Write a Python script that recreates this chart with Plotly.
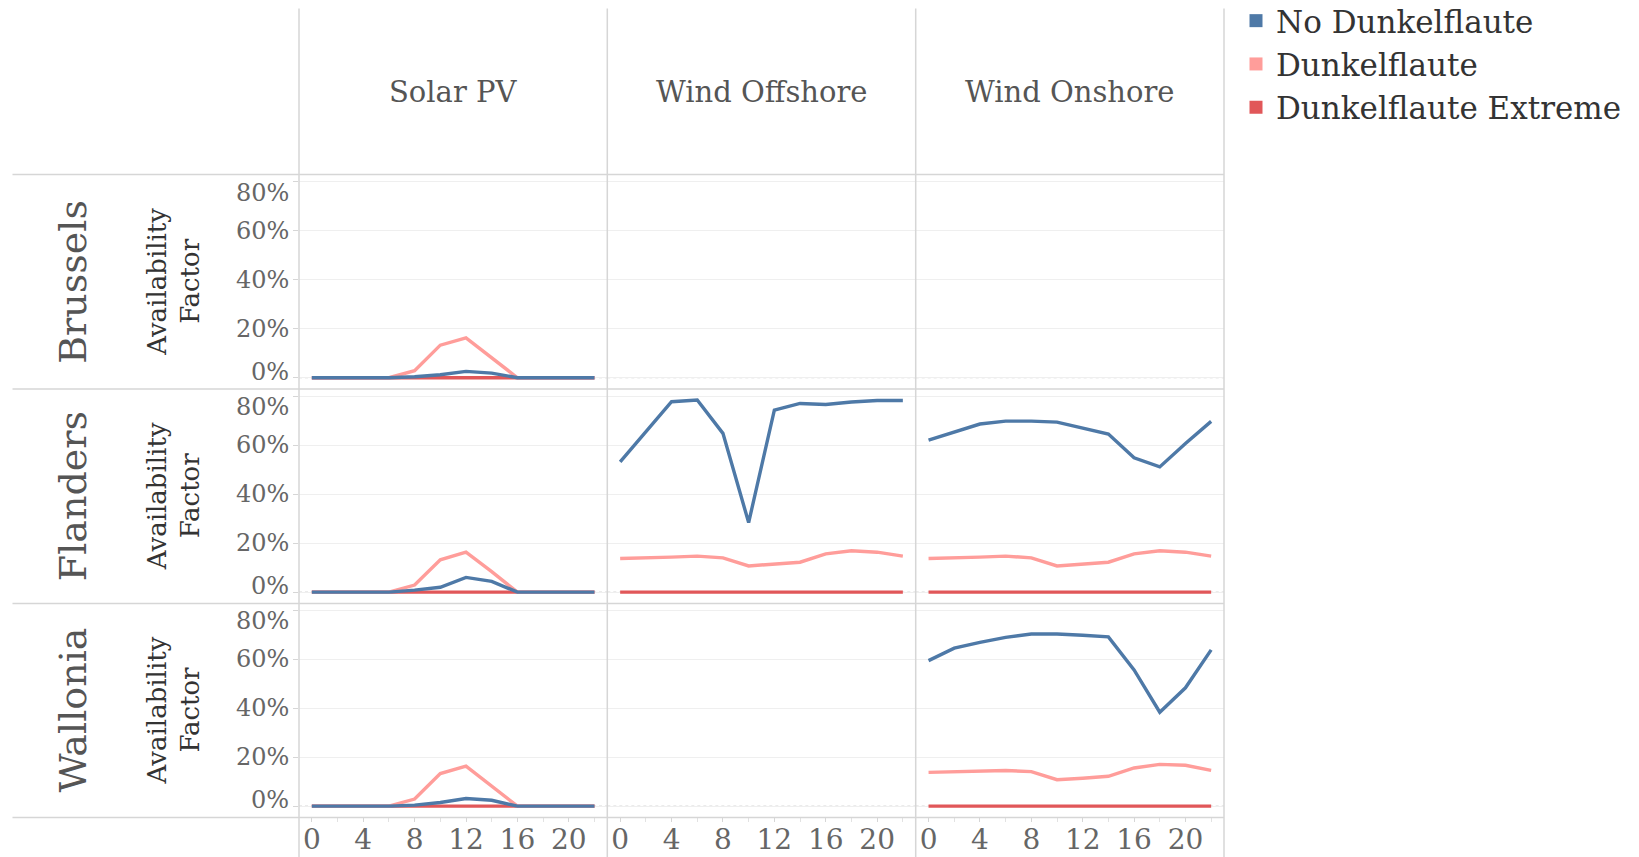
import plotly.graph_objects as go

# ---- data (availability factor in %, hourly profile every 2 h) ----
hours = [0, 2, 4, 6, 8, 10, 12, 14, 16, 18, 20, 22]

regions = ["Brussels", "Flanders", "Wallonia"]
technologies = ["Solar PV", "Wind Offshore", "Wind Onshore"]
scenarios = ["No Dunkelflaute", "Dunkelflaute", "Dunkelflaute Extreme"]

brussels_solar_no = [0, 0, 0, 0, 0.4, 1.2, 2.6, 1.9, 0, 0, 0, 0]
brussels_solar_df = [0, 0, 0, 0, 2.9, 13.3, 16.3, 8.3, 0, 0, 0, 0]
brussels_solar_ext = [0, 0, 0, 0, 0, 0, 0, 0, 0, 0, 0, 0]

flanders_solar_no = [0, 0, 0, 0, 0.8, 2.0, 6.0, 4.4, 0, 0, 0, 0]
flanders_solar_df = [0, 0, 0, 0, 2.9, 13.2, 16.3, 8.4, 0, 0, 0, 0]
flanders_solar_ext = [0, 0, 0, 0, 0, 0, 0, 0, 0, 0, 0, 0]

wallonia_solar_no = [0, 0, 0, 0, 0.4, 1.5, 3.1, 2.4, 0, 0, 0, 0]
wallonia_solar_df = [0, 0, 0, 0, 2.9, 13.3, 16.4, 8.3, 0, 0, 0, 0]
wallonia_solar_ext = [0, 0, 0, 0, 0, 0, 0, 0, 0, 0, 0, 0]

flanders_offshore_no = [53.2, 65.4, 77.7, 78.4, 64.8, 28.4, 74.3, 77.0, 76.6, 77.6, 78.2, 78.2]
flanders_offshore_df = [13.7, 13.9, 14.3, 14.7, 14.0, 10.7, 11.4, 12.2, 15.6, 16.9, 16.3, 14.7]
flanders_offshore_ext = [0, 0, 0, 0, 0, 0, 0, 0, 0, 0, 0, 0]

flanders_onshore_no = [62.0, 65.4, 68.6, 69.8, 69.8, 69.4, 67.1, 64.5, 54.8, 51.1, 60.7, 69.7]
flanders_onshore_df = [13.7, 13.9, 14.3, 14.7, 14.0, 10.7, 11.4, 12.2, 15.6, 16.9, 16.3, 14.7]
flanders_onshore_ext = [0, 0, 0, 0, 0, 0, 0, 0, 0, 0, 0, 0]

wallonia_onshore_no = [59.5, 64.6, 67.0, 69.0, 70.4, 70.4, 69.9, 69.2, 55.7, 38.4, 48.4, 63.9]
wallonia_onshore_df = [13.8, 14.1, 14.4, 14.6, 14.1, 10.8, 11.4, 12.2, 15.6, 17.1, 16.7, 14.6]
wallonia_onshore_ext = [0, 0, 0, 0, 0, 0, 0, 0, 0, 0, 0, 0]

y_ticks = [0, 20, 40, 60, 80]
y_tick_text = ["0%", "20%", "40%", "60%", "80%"]
x_ticks = [0, 4, 8, 12, 16, 20]

# (region, technology) -> series per scenario; missing cells stay empty
panels = {
    ("Brussels", "Solar PV"): [brussels_solar_no, brussels_solar_df, brussels_solar_ext],
    ("Flanders", "Solar PV"): [flanders_solar_no, flanders_solar_df, flanders_solar_ext],
    ("Wallonia", "Solar PV"): [wallonia_solar_no, wallonia_solar_df, wallonia_solar_ext],
    ("Flanders", "Wind Offshore"): [flanders_offshore_no, flanders_offshore_df, flanders_offshore_ext],
    ("Flanders", "Wind Onshore"): [flanders_onshore_no, flanders_onshore_df, flanders_onshore_ext],
    ("Wallonia", "Wind Onshore"): [wallonia_onshore_no, wallonia_onshore_df, wallonia_onshore_ext],
}

# ---- styling ----
W, H = 1639, 857
FONT = "DejaVu Serif"
colors = {"No Dunkelflaute": "#4e79a7", "Dunkelflaute": "#ff9d9a",
          "Dunkelflaute Extreme": "#e15759"}
BORDER = "#d6d6d6"

col_edges = [299, 607.3, 915.7, 1224]          # px, left → right
row_edges = [174.6, 389.0, 603.4, 817.4]       # px, top → bottom
left_edge = 12.5
top_edge = 8.4


def fx(px):
    return px / W


def fy(px):
    return 1 - px / H


def ax_names(p):
    return ("x" if p == 1 else f"x{p}", "y" if p == 1 else f"y{p}")


fig = go.Figure()
layout = {}

draw_order = [2, 1, 0]  # extreme first, no-dunkelflaute on top

for r, region in enumerate(regions):
    for c, tech in enumerate(technologies):
        p = r * 3 + c + 1
        xa, ya = ax_names(p)
        xkey = "xaxis" if p == 1 else f"xaxis{p}"
        ykey = "yaxis" if p == 1 else f"yaxis{p}"

        series = panels.get((region, tech))
        if series is not None:
            for k in draw_order:
                fig.add_trace(go.Scatter(
                    x=hours, y=series[k], mode="lines",
                    line=dict(color=colors[scenarios[k]], width=3.4),
                    name=scenarios[k], showlegend=False,
                    xaxis=xa, yaxis=ya))

        bottom = r == len(regions) - 1
        layout[xkey] = dict(
            domain=[fx(col_edges[c]), fx(col_edges[c + 1])],
            anchor=ya, range=[-1, 23], showgrid=False, zeroline=False,
            showline=False, tickvals=x_ticks if bottom else [],
            showticklabels=bottom, automargin=False,
            ticks="outside" if bottom else "", ticklen=4, tickcolor=BORDER,
            ticklabelstandoff=-7,
            minor=dict(dtick=2, tick0=0, ticks="outside" if bottom else "",
                       ticklen=4, tickcolor="#e2e2e2", showgrid=False),
            tickfont=dict(family=FONT, size=28, color="#666666"),
            fixedrange=True)
        layout[ykey] = dict(
            domain=[fy(row_edges[r + 1]), fy(row_edges[r])],
            anchor=xa, range=[-4.6, 82.9], tickvals=y_ticks,
            showticklabels=False, automargin=False,
            ticks="outside" if c == 0 else "", ticklen=5, tickcolor=BORDER,
            showgrid=True, gridcolor="#efefef", gridwidth=1,
            zeroline=False, showline=False, fixedrange=True)

# legend entries as square swatches
for s in scenarios:
    fig.add_trace(go.Scatter(
        x=[None], y=[None], mode="markers", name=s,
        marker=dict(symbol="square", size=13, color=colors[s]),
        showlegend=True))

shapes = []
# panel frame lines
for x in col_edges:
    shapes.append(dict(type="line", xref="paper", yref="paper",
                       x0=fx(x), x1=fx(x), y0=fy(top_edge), y1=0,
                       line=dict(color=BORDER, width=1.5)))
for y in row_edges:
    shapes.append(dict(type="line", xref="paper", yref="paper",
                       x0=fx(left_edge), x1=fx(col_edges[-1]), y0=fy(y), y1=fy(y),
                       line=dict(color=BORDER, width=1.5)))
# dotted zero line in every pane
for p in range(1, 10):
    xa, ya = ax_names(p)
    shapes.append(dict(type="line", xref=f"{xa} domain", yref=ya,
                       x0=0, x1=1, y0=0, y1=0, layer="below",
                       line=dict(color="#c8c8c8", width=1, dash="dot")))

annotations = []
# column headers
for c, tech in enumerate(technologies):
    annotations.append(dict(
        text=tech, xref="paper", yref="paper",
        x=fx((col_edges[c] + col_edges[c + 1]) / 2), y=fy(92),
        xanchor="center", yanchor="middle", showarrow=False,
        font=dict(family=FONT, size=29, color="#555555")))
# row headers, axis titles and value labels (end labels kept inside the pane)
label_shift = {0: 6, 80: -11}
for r, region in enumerate(regions):
    yc = fy((row_edges[r] + row_edges[r + 1]) / 2)
    annotations.append(dict(
        text=region, xref="paper", yref="paper", x=fx(73), y=yc,
        textangle=-90, xanchor="center", yanchor="middle", showarrow=False,
        font=dict(family=FONT, size=38, color="#555555")))
    annotations.append(dict(
        text="Availability", xref="paper", yref="paper", x=fx(157), y=yc,
        textangle=-90, xanchor="center", yanchor="middle", showarrow=False,
        font=dict(family=FONT, size=26, color="#333333")))
    annotations.append(dict(
        text="Factor", xref="paper", yref="paper", x=fx(190), y=yc,
        textangle=-90, xanchor="center", yanchor="middle", showarrow=False,
        font=dict(family=FONT, size=26, color="#333333")))
    _, ya = ax_names(r * 3 + 1)
    for v, t in zip(y_ticks, y_tick_text):
        annotations.append(dict(
            text=t, xref="paper", yref=ya, x=fx(291), y=v,
            xanchor="right", yanchor="middle", yshift=label_shift.get(v, 0),
            showarrow=False,
            font=dict(family=FONT, size=24, color="#666666")))

fig.update_layout(
    width=W, height=H,
    margin=dict(l=0, r=0, t=0, b=0, pad=0, autoexpand=False),
    paper_bgcolor="white", plot_bgcolor="white",
    font=dict(family=FONT, color="#555555"),
    showlegend=True,
    legend=dict(x=fx(1236), y=1 + 6 / H, xanchor="left", yanchor="top",
                font=dict(family=FONT, size=31, color="#333333"),
                bgcolor="rgba(0,0,0,0)", itemclick=False,
                itemdoubleclick=False, tracegroupgap=0),
    shapes=shapes, annotations=annotations, **layout)

fig.write_html("out.html")
